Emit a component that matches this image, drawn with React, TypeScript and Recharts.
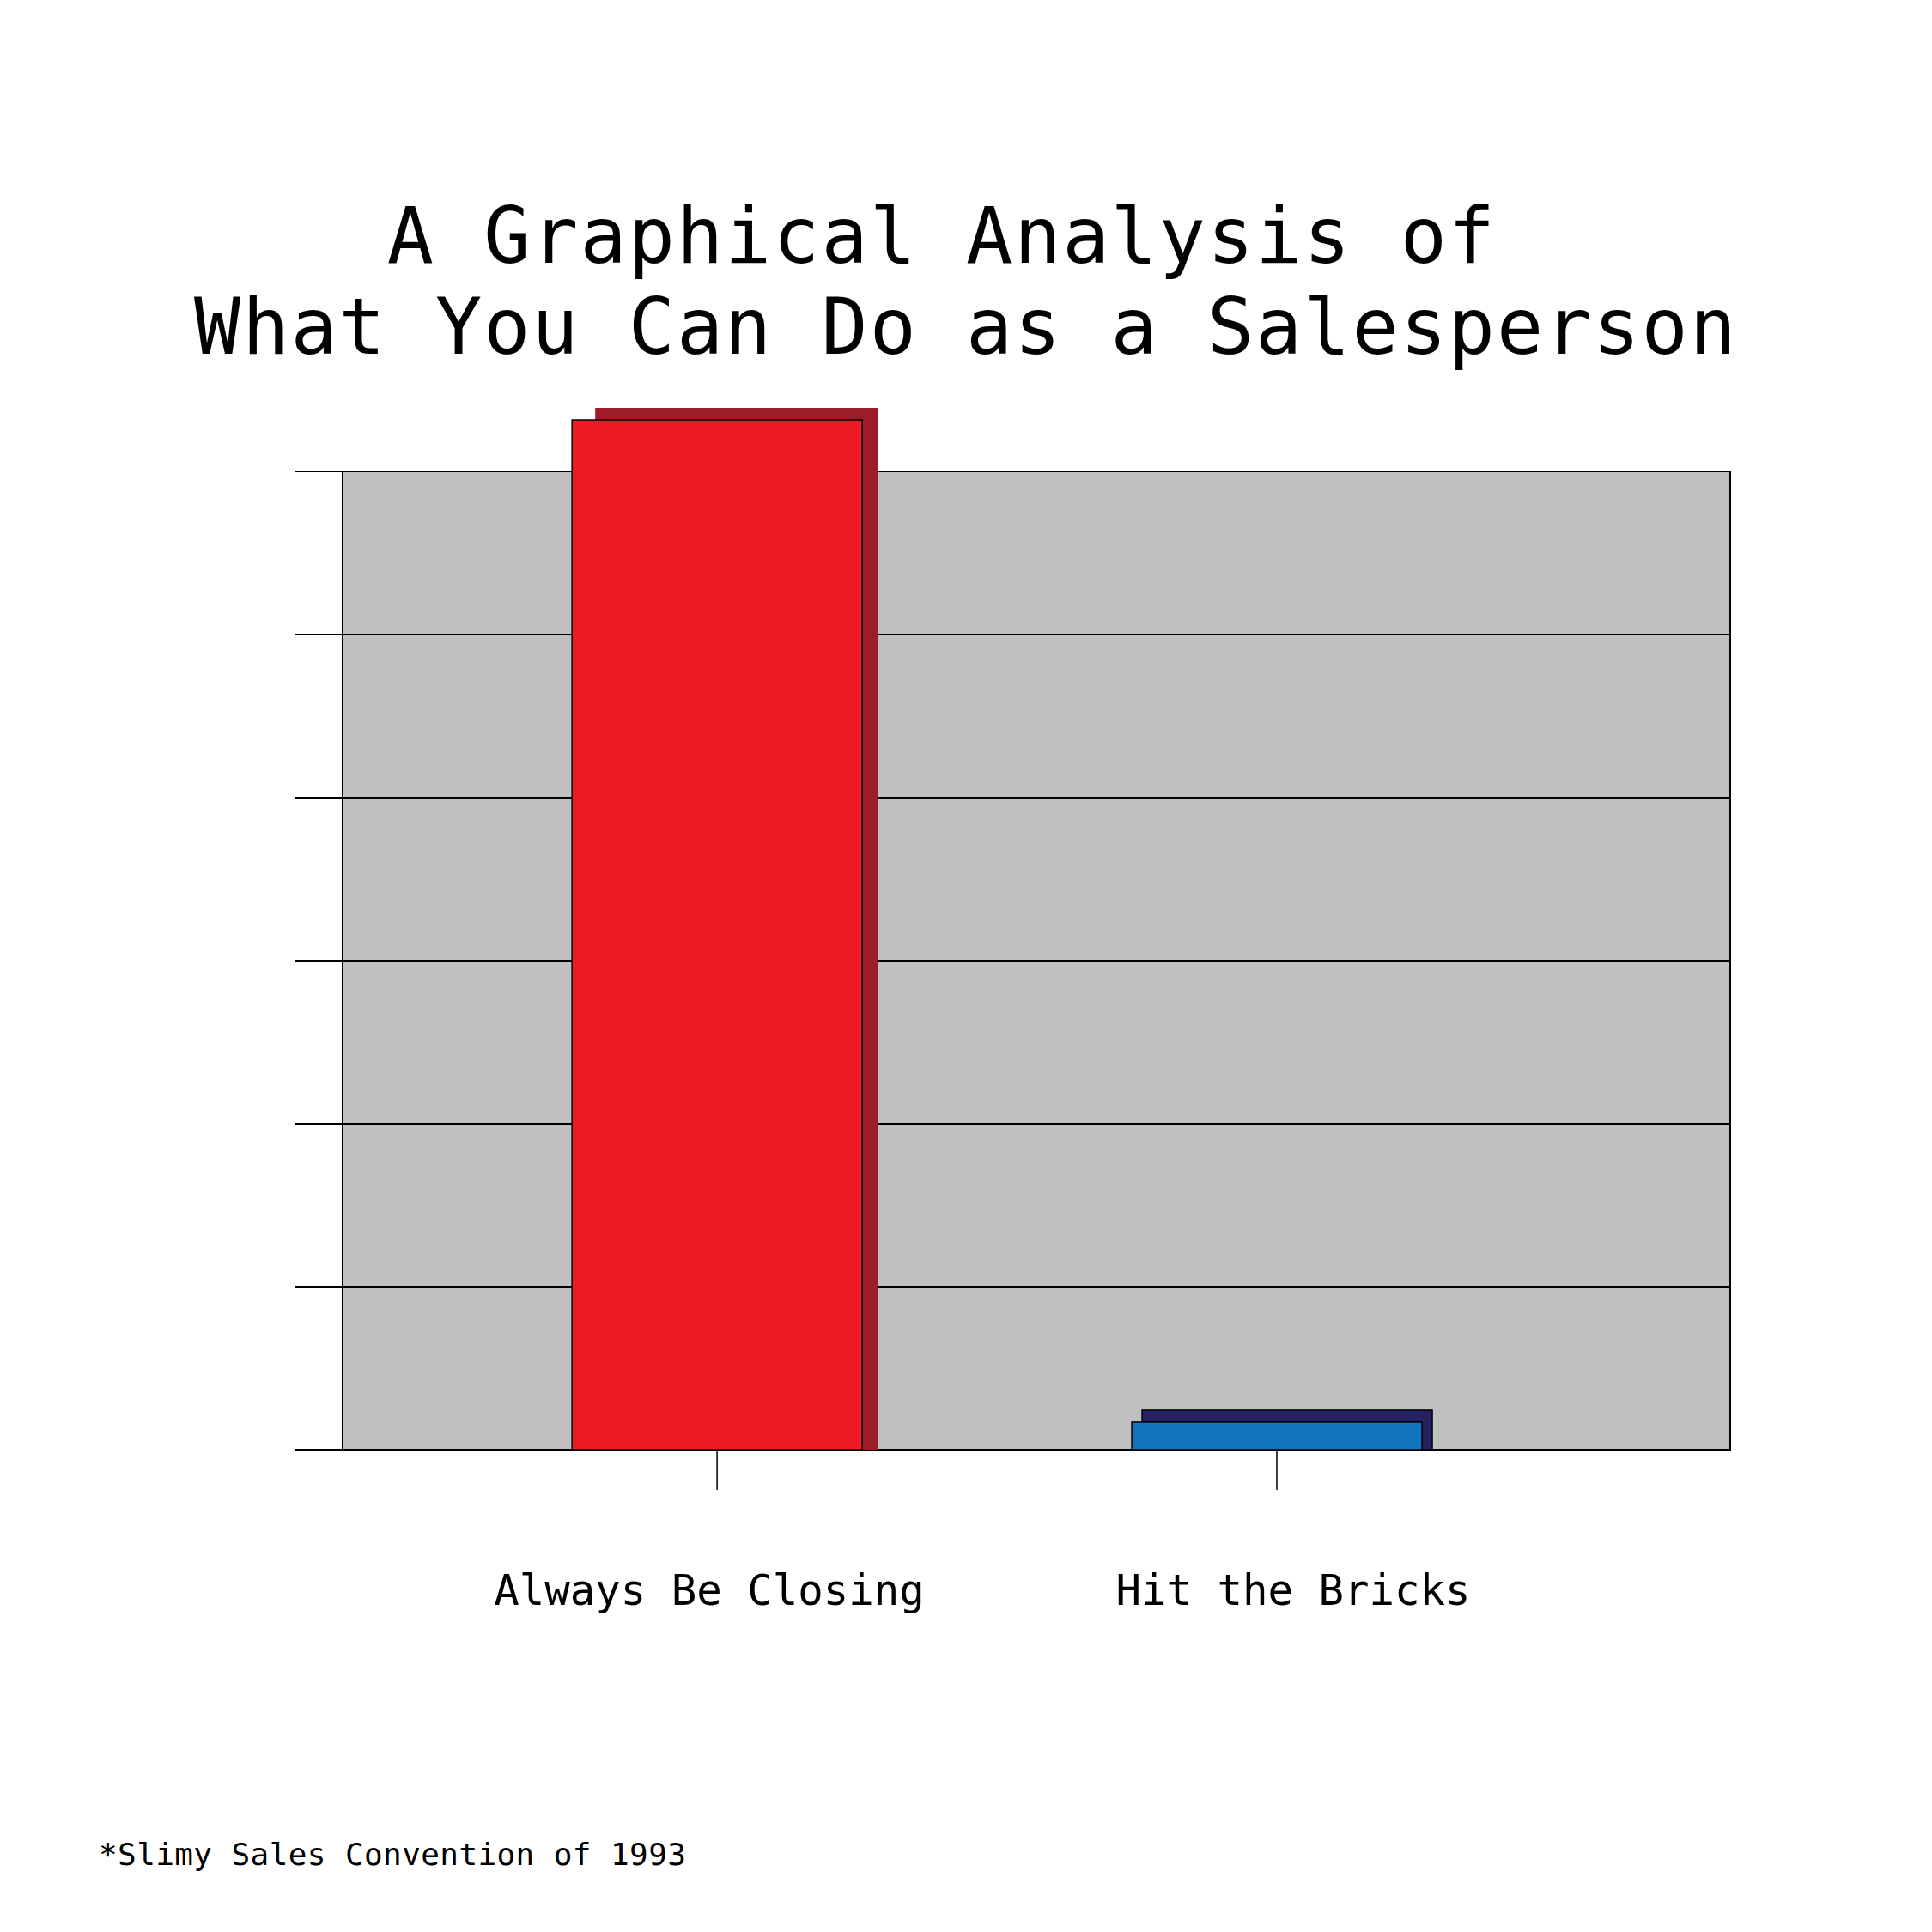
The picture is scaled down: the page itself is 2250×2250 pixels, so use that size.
import React from 'react';
import { BarChart, Bar, XAxis, YAxis, ReferenceArea, ReferenceLine } from 'recharts';

const CATEGORIES = ['Always Be Closing', 'Hit the Bricks'];
const VALUES = [6.316, 0.174];
const Y_TICKS = [0, 1, 2, 3, 4, 5, 6];
const X_TICKS = [0, 1];
const TITLE_LINES = ['A Graphical Analysis of ', 'What You Can Do as a Salesperson'];
const FOOTNOTE = '*Slimy Sales Convention of 1993';

const BAR_COLORS = ['#ED1C24', '#1075BC'];
const SHADOW_COLORS = ['#9E1B29', '#262262'];
const SHADOW_STROKES = ['none', '#000000'];
const SHADOW_LEFT = [27, 12];
const SHADOW_RIGHT = [18, 12];
const LABEL_DX = [-9, 19];

const data = CATEGORIES.map((name, i) => ({ idx: i, name, value: VALUES[i] }));

const FONT = '"DejaVu Sans Mono", monospace';

const BarShape = (props: any) => {
  const { x, y, width, height, index } = props;
  const i = index ?? 0;
  const oy = 14;
  return (
    <g>
      <rect
        x={x + SHADOW_LEFT[i]}
        y={y - oy}
        width={width - SHADOW_LEFT[i] + SHADOW_RIGHT[i]}
        height={height + oy}
        fill={SHADOW_COLORS[i]}
        stroke={SHADOW_STROKES[i]}
        strokeWidth={1.5}
      />
      <rect x={x} y={y} width={width} height={height} fill={BAR_COLORS[i]} stroke="#000" strokeWidth={1.5} />
    </g>
  );
};

const XTick = (props: any) => {
  const { x, y, payload } = props;
  const i = payload.value;
  return (
    <text x={x + LABEL_DX[i]} y={y} dy={134} textAnchor="middle" fontFamily={FONT} fontSize={49} fill="#000">
      {CATEGORIES[i]}
    </text>
  );
};

const EmptyTick = () => <g />;

export default function App() {
  return (
    <div style={{ position: 'absolute', left: 0, top: 0, width: 2250, height: 2250, background: '#fff' }}>
      <BarChart
        width={2250}
        height={2250}
        data={data}
        margin={{ top: 489, right: 235, bottom: 361, left: 344 }}
      >
        <ReferenceArea
          y1={Y_TICKS[0]}
          y2={Y_TICKS[Y_TICKS.length - 1]}
          fill="#C0C0C0"
          fillOpacity={1}
          stroke="#000"
          strokeWidth={2}
          zIndex={-200}
        />
        {Y_TICKS.map((t) => (
          <ReferenceLine key={t} y={t} stroke="#000" strokeWidth={2} zIndex={-100} />
        ))}
        <XAxis
          dataKey="idx"
          type="number"
          domain={[-0.669, 1.81]}
          ticks={X_TICKS}
          height={200}
          axisLine={false}
          stroke="#000"
          tickLine={{ stroke: '#000', strokeWidth: 1.5 }}
          tickSize={46}
          tickMargin={0}
          tick={<XTick />}
          interval={0}
        />
        <YAxis
          type="number"
          domain={[0, 'dataMax']}
          ticks={Y_TICKS}
          width={55}
          axisLine={false}
          stroke="#000"
          tickLine={{ stroke: '#000', strokeWidth: 2 }}
          tickSize={55}
          tick={<EmptyTick />}
          interval={0}
        />
        <Bar dataKey="value" barSize={338} isAnimationActive={false} shape={<BarShape />} />
      </BarChart>
      <svg
        width={2250}
        height={2250}
        style={{ position: 'absolute', left: 0, top: 0, pointerEvents: 'none' }}
      >
        {TITLE_LINES.map((line, i) => (
          <text
            key={i}
            x={1125}
            y={306 + i * 106}
            textAnchor="middle"
            fontFamily={FONT}
            fontSize={90}
            fill="#000"
            style={{ whiteSpace: 'pre', letterSpacing: '2px' }}
          >
            {line}
          </text>
        ))}
        <text
          x={115}
          y={2172}
          fontFamily={FONT}
          fontSize={36}
          fill="#000"
          style={{ whiteSpace: 'pre', letterSpacing: '0.4px' }}
        >
          {FOOTNOTE}
        </text>
      </svg>
    </div>
  );
}
